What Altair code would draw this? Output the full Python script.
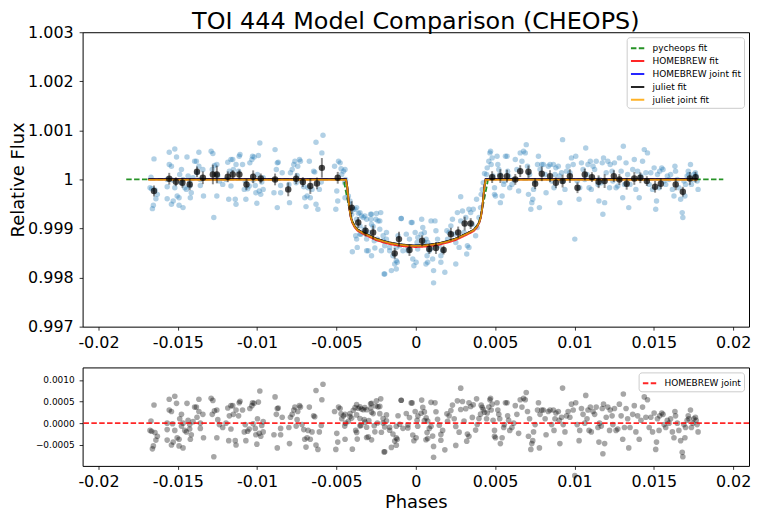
import altair as alt
import numpy as np
import pandas as pd

# ---------------- data ----------------
# CHEOPS photometry: phase and flux deviation from 1 (parts per million)
PRE_PHASE = [-0.01669, -0.01675, -0.01665, -0.01644, -0.01629, -0.01638, -0.01654, -0.01660, -0.01650,
             -0.01554, -0.01519, -0.01508, -0.01554, -0.01540, -0.01567, -0.01567, -0.01567, -0.01540,
             -0.01529, -0.01504, -0.01492, -0.01492, -0.01467, -0.01519, -0.01533, -0.01488, -0.01477,
             -0.01477, -0.01467, -0.01456, -0.01446, -0.01442, -0.01435, -0.01425, -0.01425, -0.01415,
             -0.01421, -0.01394, -0.01383, -0.01367, -0.01367, -0.01379, -0.01358, -0.01358, -0.01342,
             -0.01338, -0.01404, -0.01290, -0.01279, -0.01283, -0.01269, -0.01254, -0.01248, -0.01273,
             -0.01254, -0.01238, -0.01217, -0.01196, -0.01185, -0.01165, -0.01154, -0.01179, -0.01175,
             -0.01165, -0.01150, -0.01138, -0.01133, -0.01133, -0.01113, -0.01117, -0.01108, -0.01092,
             -0.01081, -0.01075, -0.01071, -0.01060, -0.01050, -0.01046, -0.01033, -0.01029, -0.01019,
             -0.01025, -0.01012, -0.01008, -0.01002, -0.00998, -0.00992, -0.00983, -0.00977, -0.00971,
             -0.00962, -0.00962, -0.00987, -0.00894, -0.00887, -0.00879, -0.00873, -0.00873, -0.00867,
             -0.00852, -0.00852, -0.00842, -0.00800, -0.00796, -0.00790, -0.00779, -0.00769, -0.00762,
             -0.00754, -0.00748, -0.00744, -0.00733, -0.00727, -0.00717, -0.00706, -0.00700, -0.00692,
             -0.00685, -0.00679, -0.00671, -0.00665, -0.00654, -0.00644, -0.00637, -0.00629, -0.00629,
             -0.00617, -0.00608, -0.00596, -0.00592, -0.00585, -0.00512, -0.00504, -0.00498, -0.00487,
             -0.00477, -0.00492, -0.00471, -0.00467, -0.00456, -0.00448, -0.00446, -0.00446, -0.00443]
PRE_PPM = [47, -169, -189, -216, -304, -392, -527, -595, 419,
           554, 622, 459, 304, 270, 0, -149, -392, -507,
           -439, -338, -372, -527, -574, -169, -14, 101, 203,
           -68, 0, -169, -203, 459, 68, -34, -135, -270,
           -372, 372, 372, 554, 270, 135, 0, -122, 203,
           -338, 34, 574, 527, 203, 284, 304, 81, -777,
           -338, -34, -101, 0, 351, 405, 405, -405, 169,
           -135, 203, -405, -507, 304, 473, 169, 507, 304,
           -203, -34, -405, -189, -135, 338, 405, 473, 459,
           -14, -122, -270, -487, 101, 487, 743, -304, -54,
           34, -203, -236, -270, 608, 203, 338, -574, 351,
           -122, -270, 135, -101, -473, 135, 203, 304, 372,
           -68, 81, 270, 405, 372, -34, -149, -372, -554,
           -338, -169, 372, -372, -203, 169, 149, 757, -507,
           -608, -203, -54, 541, 899, 270, -608, -236, 372,
           338, -439, 216, 101, 169, -68, -372, 203, 0]

IN_PHASE = [-0.00425, -0.00415, -0.00404, -0.00400, -0.00383, -0.00373, -0.00362, -0.00379, -0.00373,
            -0.00352, -0.00346, -0.00342, -0.00321, -0.00325, -0.00310, -0.00300, -0.00296, -0.00283,
            -0.00279, -0.00269, -0.00262, -0.00279, -0.00252, -0.00242, -0.00227, -0.00221, -0.00227,
            -0.00217, -0.00206, -0.00200, -0.00196, -0.00185, -0.00165, -0.00154, -0.00144, -0.00133,
            -0.00123, -0.00117, -0.00112, -0.00102, -0.00092, -0.00081, -0.00060, -0.00050, -0.00040,
            -0.00029, -0.00019, -0.00012, -0.00004, 0.00002, 0.00008,
            -0.00415, -0.00394, -0.00373, -0.00352, -0.00331, -0.00310, -0.00285, -0.00248, -0.00238,
            -0.00279, -0.00321, -0.00352, -0.00369, -0.00310, -0.00258, -0.00206, -0.00185, -0.00165,
            -0.00123, -0.00092, -0.00050, -0.00023, 0.00013, 0.00033, 0.00054, 0.00096, 0.00064,
            -0.00123, -0.00196,
            0.00012, 0.00037, 0.00044, 0.00054, 0.00065, 0.00075, 0.00085, 0.00071, 0.00075, 0.00096,
            0.00106, 0.00112, 0.00112, 0.00121, 0.00127, 0.00137, 0.00148, 0.00158, 0.00158, 0.00169,
            0.00183, 0.00196, 0.00200, 0.00210, 0.00221, 0.00231, 0.00242, 0.00252, 0.00252, 0.00262,
            0.00273, 0.00283, 0.00283, 0.00294, 0.00304, 0.00315, 0.00321, 0.00325, 0.00335, 0.00335,
            0.00346, 0.00356, 0.00362, 0.00377, 0.00383, 0.00387, 0.00398, 0.00408, 0.00412, 0.00419,
            0.00425]
IN_PPM = [-338, -507, -709, -1473, -608, -811, -689, -1149, -1216,
          -946, -1115, -743, -743, -1014, -1216, -1453, -1081, -811,
          -709, -960, -1250, -1554, -811, -1216, -1014, -676, -845,
          -1453, -1250, -1926, -1351, -1081, -1453, -1858, -1554, -1723,
          -1824, -1689, -1149, -1351, -797, -1453, -1115, -1453, -1216,
          -878, -1622, -1757, -1081, -1689, -1284,
          -439, -608, -574, -676, -777, -811, -709, -696, -845,
          -912, -1081, -1115, -1385, -1453, -1399, -1149, -1216, -1385,
          -1385, -797, -1385, -878, -1182, -1115, -1284, -1399, -1723,
          -1655, -1926,
          -1419, -811, -980, -1081, -1216, -1284, -1453, -1554, -1689, -845,
          -1622, -1858, -2108, -845, -1047, -1216, -1351, -1554, -1689, -1453,
          -1892, -1047, -1216, -1081, -946, -811, -1115, -1284, -1723, -676,
          -1385, -351, -845, -642, -1081, -777, -1520, -1351, -608, -1385,
          -676, -912, -608, -1149, -405, -980, -777, -574, -304, -203,
          -68]

POST_PHASE = [0.00433, 0.00446, 0.00450, 0.00460, 0.00467, 0.00471, 0.00475, 0.00481, 0.00487, 0.00496,
              0.00502, 0.00496, 0.00512, 0.00517, 0.00523, 0.00529, 0.00533, 0.00544, 0.00554, 0.00558,
              0.00565, 0.00575, 0.00579, 0.00585, 0.00592, 0.00606, 0.00617, 0.00627, 0.00637, 0.00648,
              0.00658, 0.00669, 0.00679, 0.00690, 0.00696, 0.00704, 0.00710, 0.00717, 0.00725, 0.00731,
              0.00737, 0.00742, 0.00752, 0.00767, 0.00773, 0.00779, 0.00783, 0.00794, 0.00804, 0.00815,
              0.00821, 0.00835, 0.00846, 0.00856, 0.00867, 0.00871, 0.00877, 0.00883, 0.00898, 0.00904,
              0.00908, 0.00919, 0.00925, 0.00929, 0.00940, 0.00950, 0.00960, 0.00971, 0.00981, 0.00992,
              0.01002, 0.01008, 0.01017, 0.01029, 0.01033, 0.01044, 0.01054, 0.01065, 0.01071, 0.01079,
              0.01085, 0.01092, 0.01100, 0.01106, 0.01117, 0.01127, 0.01137, 0.01148, 0.01154, 0.01158,
              0.01169, 0.01175, 0.01179, 0.01183, 0.01190, 0.01200, 0.01210, 0.01221, 0.01225, 0.01237,
              0.01242, 0.01252, 0.01262, 0.01273, 0.01283, 0.01294, 0.01304, 0.01308, 0.01315, 0.01325,
              0.01335, 0.01342, 0.01350, 0.01367, 0.01377, 0.01387, 0.01398, 0.01408, 0.01419, 0.01429,
              0.01440, 0.01450, 0.01460, 0.01471, 0.01481, 0.01492, 0.01502, 0.01512, 0.01517, 0.01523,
              0.01533, 0.01537, 0.01550, 0.01558, 0.01565, 0.01575, 0.01585, 0.01596, 0.01606, 0.01617,
              0.01627, 0.01633, 0.01637, 0.01648, 0.01658, 0.01669, 0.01679, 0.01683, 0.01690, 0.01696,
              0.01700, 0.01710, 0.01717, 0.01721, 0.01731, 0.01737, 0.01746, 0.01752, 0.01762, 0.01773,
              0.01779, 0.01767]
POST_PPM = [122, 101, 236, 372, 541, 574, 304, 439, 68, -304,
            -338, -169, 473, 304, 203, 101, -473, -338, -101, -34,
            473, 473, 169, 68, -169, -101, 0, 405, 203, -236,
            541, 372, 574, 541, 709, 270, -304, 101, -608, -473,
            -405, -203, -34, 304, 473, -574, 203, 304, 304, 101,
            -270, 270, 304, -34, 304, -169, 101, 236, 270, 68,
            -473, 135, 811, -34, -203, 169, 270, 135, 439, 304,
            -1216, 473, -34, -405, -169, 338, 203, 0, 642, 101,
            304, -169, 372, -203, 270, 203, 372, -101, -439, 0,
            -68, 338, -709, 439, -473, 135, 372, -169, 304, 169,
            -34, 338, -169, -135, 439, 169, -372, 676, -101, 338,
            101, -574, -101, 203, 405, -203, 169, -372, 68, 372,
            608, 135, 541, -101, 135, -203, 236, -608, -439, 101,
            -169, 169, 236, 203, -34, -101, 68, 0, 101, -203,
            -338, 270, 169, 0, -169, -405, -676, -777, -34, -338,
            -101, 68, 169, 101, 304, -101, 0, 101, 135, -34,
            -203, 68]

# binned points (phase, flux deviation ppm, error ppm)
BIN_PHASE = [-0.01650, -0.01554, -0.01512, -0.01471, -0.01425, -0.01379, -0.01342, -0.01279, -0.01254,
             -0.01185, -0.01154, -0.01112, -0.01067, -0.01025, -0.00977, -0.00887, -0.00804, -0.00754,
             -0.00712, -0.00665, -0.00623, -0.00592, -0.00492, -0.00404, -0.00363, -0.00317, -0.00269,
             -0.00133, -0.00106, -0.00040, 0.00040, 0.00085, 0.00127, 0.00175, 0.00221, 0.00267,
             0.00308, 0.00346, 0.00481, 0.00533, 0.00575, 0.00627, 0.00658, 0.00710, 0.00752, 0.00794,
             0.00846, 0.00883, 0.00925, 0.00971, 0.01019, 0.01065, 0.01110, 0.01152, 0.01190, 0.01248,
             0.01283, 0.01329, 0.01377, 0.01415, 0.01456, 0.01508, 0.01544, 0.01638, 0.01683, 0.01727,
             0.01763]
BIN_PPM = [-236, 14, -47, -68, -101, 155, 34, 101, 101,
           54, 101, 101, -101, 54, 20, 0, -203, 14,
           -54, -135, -81, 236, 34, -574, -878, -1047, -1081,
           -1507, -1216, -1439, -1250, -1419, -1399, -1439, -1115, -1081,
           -899, -899, 47, 68, 68, 0, 169, 155, -88, 115,
           68, -68, -34, 68, -169, 101, 47, -47, -34, 68,
           0, -88, 20, 34, -34, -149, -88, -101, -250, 20,
           47]
BIN_ERR = [110, 120, 90, 100, 120, 110, 130, 200, 180,
           110, 90, 100, 110, 130, 100, 120, 140, 110,
           100, 160, 120, 200, 120, 130, 110, 120, 140,
           110, 150, 120, 110, 100, 120, 90, 130, 120,
           140, 110, 120, 140, 130, 110, 120, 130, 110, 150,
           120, 110, 130, 140, 110, 120, 100, 130, 140, 120,
           110, 120, 130, 110, 100, 120, 110, 120, 100, 130,
           110]

# transit models (phase, flux deviation ppm)
MODEL_PHASE = [-0.01686, -0.00440, -0.00432, -0.00425, -0.00418, -0.00410, -0.00400, -0.00385, -0.00365,
               -0.00330, -0.00290, -0.00250, -0.00200, -0.00150, -0.00100, -0.00050, 0.0, 0.00050,
               0.00100, 0.00150, 0.00200, 0.00250, 0.00290, 0.00330, 0.00365, 0.00385, 0.00400,
               0.00410, 0.00418, 0.00425, 0.00432, 0.00440, 0.01775]
HB_JOINT_PPM = [0, 0, -150, -380, -600, -760, -870, -960, -1030,
                -1090, -1150, -1210, -1260, -1300, -1325, -1343, -1350, -1343,
                -1325, -1300, -1260, -1210, -1150, -1090, -1030, -960, -870,
                -760, -600, -380, -150, 0, 0]
HB_FIT_PPM = [0, 0, -155, -390, -612, -775, -887, -980, -1052,
              -1113, -1175, -1236, -1287, -1328, -1353, -1371, -1378, -1371,
              -1353, -1328, -1287, -1236, -1175, -1113, -1052, -980, -887,
              -775, -612, -390, -155, 0, 0]
JULIET_FIT_PPM = [8, 8, -145, -375, -595, -755, -865, -955, -1025,
                  -1085, -1145, -1205, -1255, -1295, -1320, -1338, -1345, -1338,
                  -1320, -1295, -1255, -1205, -1145, -1085, -1025, -955, -865,
                  -755, -595, -375, -145, 8, 8]
JULIET_JOINT_PPM = [-8, -8, -160, -385, -605, -765, -875, -965, -1035,
                    -1095, -1155, -1215, -1265, -1305, -1330, -1348, -1355, -1348,
                    -1330, -1305, -1265, -1215, -1155, -1095, -1035, -965, -875,
                    -765, -605, -385, -160, -8, -8]
PYCHEOPS_PHASE = [-0.01825, -0.00455, -0.00440, -0.00425, -0.00410, -0.00400, -0.00385, -0.00365,
                  -0.00330, -0.00290, -0.00250, -0.00200, -0.00150, -0.00100, -0.00050, 0.0, 0.00050,
                  0.00100, 0.00150, 0.00200, 0.00250, 0.00290, 0.00330, 0.00365, 0.00385, 0.00400,
                  0.00410, 0.00425, 0.00440, 0.00455, 0.01938]
PYCHEOPS_PPM = [0, 0, -260, -500, -720, -850, -950, -1025,
                -1090, -1150, -1210, -1260, -1300, -1325, -1343, -1350, -1343,
                -1325, -1300, -1260, -1210, -1150, -1090, -1025, -950, -850,
                -720, -500, -260, 0, 0]

MODEL_NAMES = ["pycheops fit", "HOMEBREW fit", "HOMEBREW joint fit", "juliet fit", "juliet joint fit"]
MODEL_COLORS = ["#008000", "#ff0000", "#0000ff", "#000000", "#ffa500"]
MODEL_DASHES = [[5.5, 2.4], [1, 0], [1, 0], [1, 0], [1, 0]]

# ---------------- tables ----------------
phase = np.array(PRE_PHASE + IN_PHASE + POST_PHASE)
dppm = np.array(PRE_PPM + IN_PPM + POST_PPM, dtype=float)
obs = pd.DataFrame({"phase": phase, "flux": 1 + dppm * 1e-6})
resid = pd.DataFrame({"phase": phase,
                      "resid": (dppm - np.interp(phase, MODEL_PHASE, HB_JOINT_PPM)) * 1e-6})

bins = pd.DataFrame({"phase": BIN_PHASE,
                     "flux": 1 + np.array(BIN_PPM) * 1e-6,
                     "lo": 1 + (np.array(BIN_PPM) - np.array(BIN_ERR)) * 1e-6,
                     "hi": 1 + (np.array(BIN_PPM) + np.array(BIN_ERR)) * 1e-6})

rows = []
series = [(PYCHEOPS_PHASE, PYCHEOPS_PPM), (MODEL_PHASE, HB_FIT_PPM), (MODEL_PHASE, HB_JOINT_PPM),
          (MODEL_PHASE, JULIET_FIT_PPM), (MODEL_PHASE, JULIET_JOINT_PPM)]
for k, (ph, pp) in enumerate(series):
    for a, b in zip(ph, pp):
        rows.append({"model": MODEL_NAMES[k], "k": k, "phase": a, "flux": 1 + b * 1e-6})
models = pd.DataFrame(rows)

FONT = "DejaVu Sans"
XTICKS = [-0.02, -0.015, -0.01, -0.005, 0, 0.005, 0.01, 0.015, 0.02]
xscale = alt.Scale(domain=[-0.021, 0.021], nice=False, zero=False)
xlabel = "replace(format(datum.value, '.3~f'), '\u2212', '-')"

x_top = alt.X("phase:Q", scale=xscale,
              axis=alt.Axis(values=XTICKS, labelExpr=xlabel, title=None, labelPadding=4))
y_top = alt.Y("flux:Q", scale=alt.Scale(domain=[0.997, 1.003], nice=False, zero=False),
              axis=alt.Axis(values=[0.997, 0.998, 0.999, 1.0, 1.001, 1.002, 1.003],
                            format=".3~f", title="Relative Flux", titleFontSize=18,
                            titleFontWeight="normal", titlePadding=0, labelPadding=6,
                            labelOverlap=False))

legend_top = alt.Legend(orient="top-right", offset=5)
scatter = alt.Chart(obs).mark_circle(size=30, color="#1f77b4", opacity=0.35).encode(x=x_top, y=y_top)
lines = alt.Chart(models).mark_line(strokeWidth=1.8, opacity=0.85).encode(
    x="phase:Q", y="flux:Q",
    color=alt.Color("model:N", scale=alt.Scale(domain=MODEL_NAMES, range=MODEL_COLORS), title=None,
                    legend=legend_top),
    strokeDash=alt.StrokeDash("model:N", scale=alt.Scale(domain=MODEL_NAMES, range=MODEL_DASHES),
                              title=None, legend=legend_top),
    detail="k:O")
errs = alt.Chart(bins).mark_rule(color="black", opacity=0.45, strokeWidth=2).encode(
    x="phase:Q", y="lo:Q", y2="hi:Q")
bpts = alt.Chart(bins).mark_circle(size=42, color="black", opacity=0.7).encode(x="phase:Q", y="flux:Q")

top = alt.layer(scatter, lines, errs, bpts).properties(
    width=670, height=296,
    title=alt.Title("TOI 444 Model Comparison (CHEOPS)", fontSize=24, font=FONT,
                    fontWeight="normal", anchor="middle", offset=-10, color="black"))

x_bot = alt.X("phase:Q", scale=xscale,
              axis=alt.Axis(values=XTICKS, labelExpr=xlabel, title="Phases", titleFontSize=18,
                            titleFontWeight="normal", titlePadding=4, labelPadding=4))
y_bot = alt.Y("resid:Q", scale=alt.Scale(domain=[-0.00099, 0.00129], nice=False, zero=False),
              axis=alt.Axis(values=[-0.0005, 0.0, 0.0005, 0.001], format=".4f", labelFontSize=9,
                            labelOverlap=False, labelPadding=5, title=None))
legend_bot = alt.Legend(orient="top-right", offset=5)
rpts = alt.Chart(resid).mark_circle(size=32, color="black", opacity=0.35).encode(x=x_bot, y=y_bot)
zero = alt.Chart(pd.DataFrame({"resid": [0.0], "label": ["HOMEBREW joint"]})).mark_rule(
    strokeWidth=1.6, opacity=0.85).encode(
    y=y_bot,
    color=alt.Color("label:N", scale=alt.Scale(domain=["HOMEBREW joint"], range=["#ff0000"]),
                    title=None, legend=legend_bot),
    strokeDash=alt.StrokeDash("label:N", scale=alt.Scale(domain=["HOMEBREW joint"], range=[[5.5, 2.4]]),
                              title=None, legend=legend_bot))
bottom = alt.layer(rpts, zero).properties(width=670, height=99)

chart = alt.vconcat(top, bottom, spacing=16).resolve_scale(
    color="independent", strokeDash="independent").properties(
    padding={"left": 1, "top": 0, "right": 0, "bottom": 0}).configure(
    font=FONT).configure_view(stroke="black", strokeWidth=1).configure_axis(
    grid=False, domain=False, tickColor="black", tickSize=3.5, tickWidth=0.8,
    labelColor="black", labelFontSize=16, labelFont=FONT, titleFont=FONT, titleColor="black"
    ).configure_legend(
    labelFont=FONT, labelFontSize=9, labelColor="black", symbolType="stroke", symbolSize=180,
    symbolStrokeWidth=2, fillColor="white", strokeColor="#cccccc", cornerRadius=3, padding=3,
    rowPadding=0, labelOffset=7)

chart.save("out.html", embed_options={"renderer": "svg", "actions": False})
